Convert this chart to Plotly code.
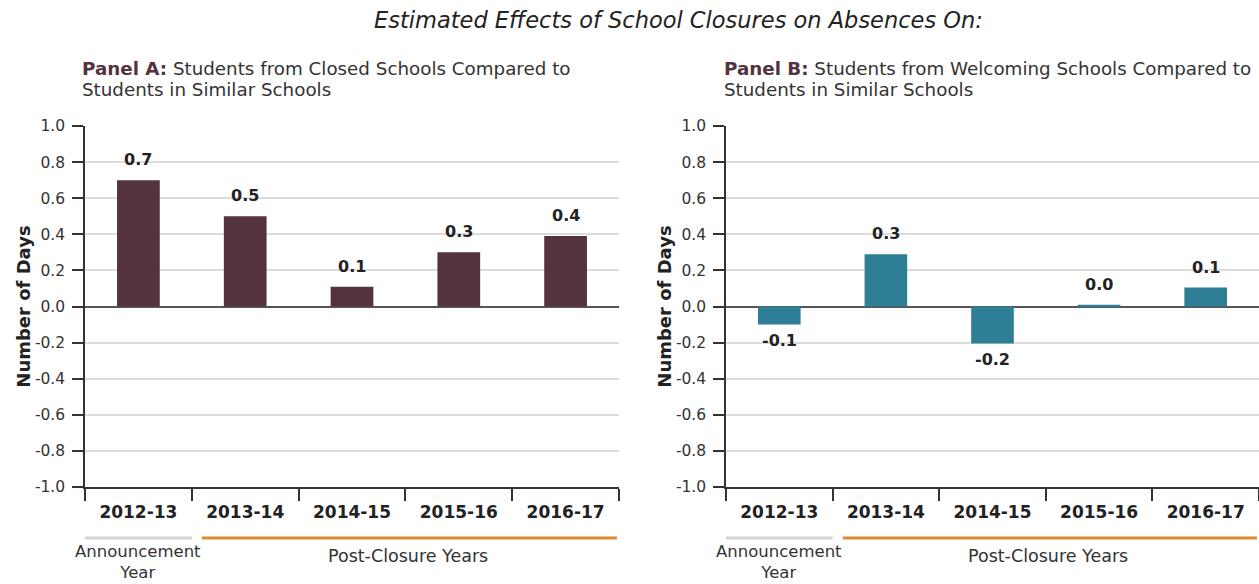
import plotly.graph_objects as go

years = ["2012-13", "2013-14", "2014-15", "2015-16", "2016-17"]
panel_a_values = [0.70, 0.50, 0.11, 0.30, 0.39]
panel_b_values = [-0.10, 0.29, -0.205, 0.01, 0.105]
panel_a_labels = ["0.7", "0.5", "0.1", "0.3", "0.4"]
panel_b_labels = ["-0.1", "0.3", "-0.2", "0.0", "0.1"]
y_ticks = [-1.0, -0.8, -0.6, -0.4, -0.2, 0.0, 0.2, 0.4, 0.6, 0.8, 1.0]
y_tick_text = ["-1.0", "-0.8", "-0.6", "-0.4", "-0.2", "0.0", "0.2", "0.4", "0.6", "0.8", "1.0"]

W, H = 1259, 584
FONT = "DejaVu Sans"
MAROON = "#54323f"
TEAL = "#2e7f96"

fig = go.Figure()
fig.add_trace(go.Bar(x=years, y=panel_a_values, marker=dict(color=MAROON, line=dict(width=0)),
                     xaxis="x", yaxis="y", hoverinfo="skip"))
fig.add_trace(go.Bar(x=years, y=panel_b_values, marker=dict(color=TEAL, line=dict(width=0)),
                     xaxis="x2", yaxis="y2", hoverinfo="skip"))

ydom = [1 - 487 / H, 1 - 126 / H]
xa_dom = [85 / W, 619 / W]
xb_dom = [726 / W, 1.0]

def xaxis(domain, anchor):
    return dict(domain=domain, anchor=anchor, type="category", tickson="boundaries",
                ticks="outside", ticklen=12, tickwidth=1.5, tickcolor="#333",
                showline=True, linecolor="#333", linewidth=1.5, showgrid=False,
                tickvals=years, ticktext=["<b>%s</b>" % y for y in years],
                tickfont=dict(family=FONT, size=17, color="#222"),
                ticklabelstandoff=9, range=[-0.5, 4.5], fixedrange=True, automargin=False)

def yaxis(anchor):
    return dict(domain=ydom, anchor=anchor, range=[-1, 1], tickvals=y_ticks, ticktext=y_tick_text,
                ticks="outside", ticklen=11, tickwidth=1.5, tickcolor="#333",
                showline=True, linecolor="#333", linewidth=1.5,
                showgrid=True, gridcolor="#dcdcdc", gridwidth=2,
                zeroline=True, zerolinecolor="#555", zerolinewidth=2,
                tickfont=dict(family=FONT, size=15.5, color="#333"), ticklabelstandoff=4,
                title=dict(text="<b>Number of Days</b>", font=dict(family=FONT, size=18, color="#222"), standoff=0),
                fixedrange=True, automargin=False)

fig.update_layout(
    width=W, height=H, margin=dict(l=0, r=0, t=0, b=0, autoexpand=False),
    paper_bgcolor="white", plot_bgcolor="white", showlegend=False,
    bargap=0.6,
    xaxis=xaxis(xa_dom, "y"), yaxis=yaxis("x"),
    xaxis2=xaxis(xb_dom, "y2"), yaxis2=yaxis("x2"),
)

annotations = []
for xref, vals, labs in (("x", panel_a_values, panel_a_labels), ("x2", panel_b_values, panel_b_labels)):
    yref = "y" if xref == "x" else "y2"
    for yr, v, lab in zip(years, vals, labs):
        pos = v >= 0
        annotations.append(dict(x=yr, y=v, xref=xref, yref=yref, text="<b>%s</b>" % lab, showarrow=False,
                                yanchor="bottom" if pos else "top", yshift=9 if pos else -4,
                                font=dict(family=FONT, size=16, color="#222")))

# main title
annotations.append(dict(x=678 / W, y=1 - 20 / H, xref="paper", yref="paper", showarrow=False,
                        text="<i>Estimated Effects of School Closures on Absences On:</i>",
                        font=dict(family=FONT, size=22.5, color="#222"), xanchor="center", yanchor="middle"))
# panel titles (two lines each)
panel_titles = [
    (80, "<b><span style='color:%s'>Panel A:</span></b> Students from Closed Schools Compared to" % MAROON,
     "Students in Similar Schools"),
    (722, "<b><span style='color:%s'>Panel B:</span></b> Students from Welcoming Schools Compared to" % MAROON,
     "Students in Similar Schools"),
]
for px, l1, l2 in panel_titles:
    for ly, txt in ((68, l1), (89, l2)):
        annotations.append(dict(x=px / W, y=1 - ly / H, xref="paper", yref="paper", showarrow=False,
                                xanchor="left", yanchor="middle", text=txt,
                                font=dict(family=FONT, size=18.3, color="#333")))

shapes = []
for xref in ("x", "x2"):
    shapes.append(dict(type="line", xref=xref, yref="paper", x0=-0.53, x1=0.50,
                       y0=1 - 538 / H, y1=1 - 538 / H, line=dict(color="#d3d3d0", width=3)))
    shapes.append(dict(type="line", xref=xref, yref="paper", x0=0.595, x1=4.48,
                       y0=1 - 538 / H, y1=1 - 538 / H, line=dict(color="#dc8c2e", width=3)))
    annotations.append(dict(x=0, xref=xref, y=0, yref="paper", showarrow=False,
                            text="Announcement<br>Year", yanchor="bottom", xanchor="center",
                            font=dict(family=FONT, size=16.5, color="#333")))
    annotations.append(dict(x=2.52, xref=xref, y=1 - 556 / H, yref="paper", showarrow=False,
                            text="Post-Closure Years", yanchor="middle", xanchor="center",
                            font=dict(family=FONT, size=17.5, color="#333")))

fig.update_layout(annotations=annotations, shapes=shapes)
fig.write_html("out.html", config={"displayModeBar": False},
               post_script="document.body.style.margin='0';document.body.style.padding='0';")
